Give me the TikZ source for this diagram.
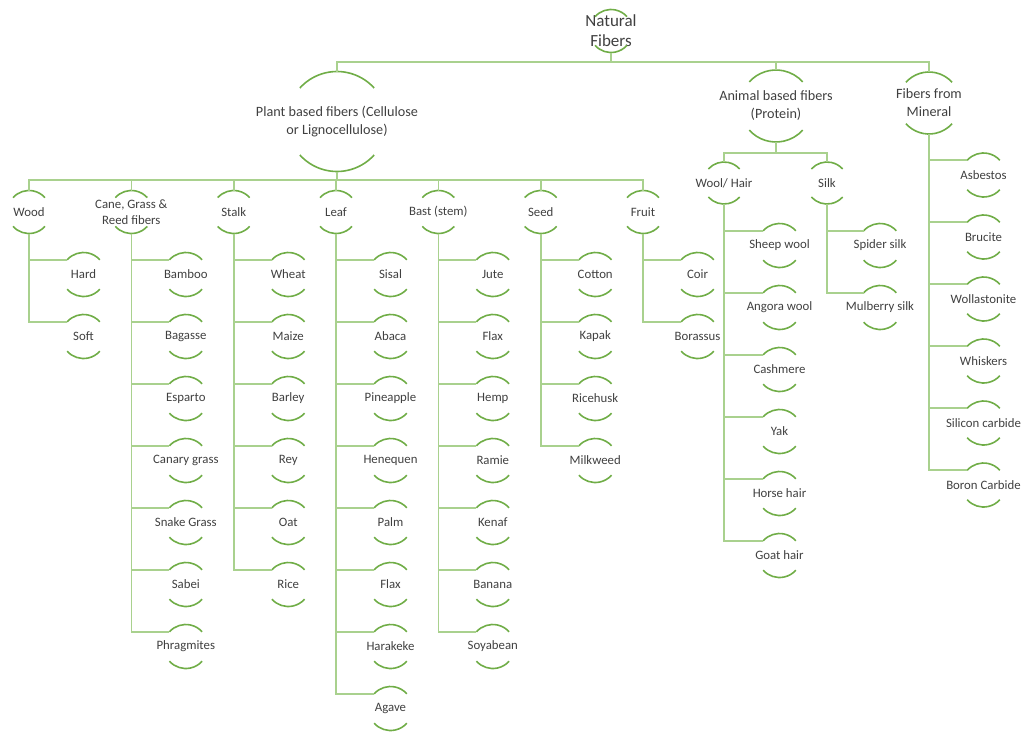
\documentclass[tikz,border=0pt]{standalone}
\usepackage{fontspec}
\setmainfont{Carlito}
\definecolor{arcgreen}{HTML}{70AD47}
\definecolor{linegreen}{HTML}{A9D18E}
\definecolor{txt}{HTML}{404040}
\tikzset{
  hc/.style={circle, draw=none, inner sep=0pt, outer sep=0pt},
  lbl/.style={inner sep=0pt, align=center, text=txt},
  arcst/.style={draw=arcgreen, line width=1.6pt},
  conn/.style={draw=linegreen, line width=1.6pt},
}
\newcommand\fsroot{\fontsize{17}{20}\selectfont}
\newcommand\fsone{\fontsize{14.2}{18}\selectfont}
\newcommand\fskid{\fontsize{12.8}{15.5}\selectfont}
% name, x, y, radius, font, text
\newcommand\hcnode[6]{%
  \node[hc, minimum size={2*#4pt}] (#1) at (#2,#3) {};
  \node[lbl, font=#5] (#1-t) at (#1.center) {#6};
  \draw[arcst] (#1.138) arc[start angle=138, end angle=42, radius=#4pt];
  \draw[arcst] (#1.222) arc[start angle=222, end angle=318, radius=#4pt];
}
% parent, child x, first y, list
\newcommand\kids[4]{%
  \foreach \t [count=\k] in {#4} {%
    \pgfmathsetmacro\yy{#3+62*(\k-1)}%
    \hcnode{#1-\k}{#2}{\yy}{22}{\fskid}{\t}
    \draw[conn] (#1.south) |- (#1-\k.138);
  }%
}
\begin{document}
\begin{tikzpicture}[x=1pt,y=-1pt]
\useasboundingbox (0,0) rectangle (1022,731);
% root and level 1
\hcnode{root}{611}{31}{21.5}{\fsroot}{Natural\\Fibers}
\hcnode{plant}{337}{121.5}{50}{\fsone}{Plant based fibers (Cellulose\\or Lignocellulose)}
\hcnode{animal}{776}{106}{36}{\fsone}{Animal based fibers\\(Protein)}
\hcnode{mineral}{929}{103}{31}{\fsone}{Fibers from\\Mineral}
\coordinate (bus0) at (611,62);
\draw[conn] (root.south) -- (bus0);
\draw[conn] (plant.north) |- (bus0) -| (mineral.north);
\draw[conn] (animal.north) -- (animal.north |- bus0);
% plant level 2
\hcnode{wood}{29}{212}{21.5}{\fskid}{Wood}
\hcnode{cane}{131.3}{212}{21.5}{\fskid}{Cane, Grass \&\\Reed fibers}
\hcnode{stalk}{233.7}{212}{21.5}{\fskid}{Stalk}
\hcnode{leaf}{336}{212}{21.5}{\fskid}{Leaf}
\hcnode{bast}{438.3}{212}{21.5}{\fskid}{Bast (stem)}
\hcnode{seed}{540.7}{212}{21.5}{\fskid}{Seed}
\hcnode{fruit}{643}{212}{21.5}{\fskid}{Fruit}
\coordinate (bus1) at (337,180);
\draw[conn] (plant.south) -- (bus1);
\draw[conn] (wood.north) |- (bus1) -| (fruit.north);
\foreach \n in {cane,stalk,leaf,bast,seed} \draw[conn] (\n.north) -- (\n.north |- bus1);
% animal level 2
\hcnode{wool}{724}{183}{21}{\fskid}{Wool/ Hair}
\hcnode{silk}{827}{183}{21}{\fskid}{Silk}
\coordinate (bus2) at (776,153);
\draw[conn] (animal.south) -- (bus2);
\draw[conn] (wool.north) |- (bus2) -| (silk.north);
% leaves
\kids{wood}{83.5}{274.5}{Hard,Soft}
\kids{cane}{185.8}{274.5}{Bamboo,Bagasse,Esparto,Canary grass,Snake Grass,Sabei,Phragmites}
\kids{stalk}{288.2}{274.5}{Wheat,Maize,Barley,Rey,Oat,Rice}
\kids{leaf}{390.5}{274.5}{Sisal,Abaca,Pineapple,Henequen,Palm,Flax,Harakeke,Agave}
\kids{bast}{492.8}{274.5}{Jute,Flax,Hemp,Ramie,Kenaf,Banana,Soyabean}
\kids{seed}{595.2}{274.5}{Cotton,Kapak,Ricehusk,Milkweed}
\kids{fruit}{697.5}{274.5}{Coir,Borassus}
\kids{wool}{779.5}{245.5}{Sheep wool,Angora wool,Cashmere,Yak,Horse hair,Goat hair}
\kids{silk}{880}{245.5}{Spider silk,Mulberry silk}
\kids{mineral}{983.5}{175}{Asbestos,Brucite,Wollastonite,Whiskers,Silicon carbide,Boron Carbide}
\end{tikzpicture}
\end{document}
